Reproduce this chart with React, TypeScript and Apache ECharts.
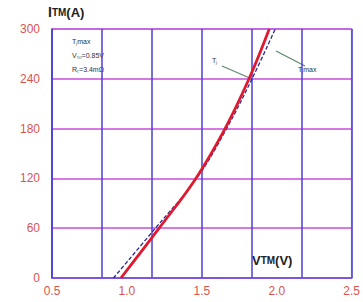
import React, { useEffect, useRef } from "react";
import * as echarts from "echarts";

const xTicks = [0.5, 1.0, 1.5, 2.0, 2.5];
const yTicks = [0, 60, 120, 180, 240, 300];
const redV = [0.96, 1.215, 1.46, 1.655, 1.815, 1.95];
const redI = [0, 60, 120, 180, 240, 300];
const blueV = [0.91, 1.19, 1.465, 1.665, 1.835, 1.99];
const blueI = [0, 60, 120, 180, 240, 300];

export default function App() {
  const ref = useRef<HTMLDivElement>(null);
  useEffect(() => {
    if (!ref.current) return;
    const chart = echarts.init(ref.current, undefined, { renderer: "svg" });
    const labelColor = "#d9544f";
    chart.setOption({
      animation: false,
      backgroundColor: "#ffffff",
      grid: { left: 52, right: 7, top: 29, bottom: 24, show: true, borderColor: "#a8a4f0", borderWidth: 1.5 },
      xAxis: [
        {
          type: "value",
          min: xTicks[0],
          max: xTicks[xTicks.length - 1],
          interval: 0.5,
          axisLine: { show: true, lineStyle: { color: "#6a4fd8", width: 1.5 } },
          axisTick: { show: false },
          splitLine: { show: false },
          axisLabel: {
            color: labelColor,
            fontSize: 12,
            fontFamily: "Liberation Sans",
            margin: 7,
            formatter: (v: number) => v.toFixed(1),
          },
        },
        {
          type: "value",
          min: 0,
          max: 6,
          interval: 1,
          position: "top",
          axisLine: { show: false },
          axisTick: { show: false },
          axisLabel: { show: false },
          splitLine: { show: true, lineStyle: { color: "#4a3fd6", width: 1.5 } },
        },
      ],
      yAxis: {
        type: "value",
        min: yTicks[0],
        max: yTicks[yTicks.length - 1],
        interval: 60,
        axisLine: { show: true, lineStyle: { color: "#4a3fd6", width: 1.5 } },
        axisTick: { show: false },
        splitLine: { show: true, lineStyle: { color: "#c94cdc", width: 1.5 } },
        axisLabel: { color: labelColor, fontSize: 12, fontFamily: "Liberation Sans", margin: 12 },
      },
      series: [
        {
          type: "line",
          xAxisIndex: 0,
          data: blueV.map((v, i) => [v, blueI[i]]),
          smooth: 0.4,
          symbol: "none",
          lineStyle: { color: "#2a2a90", width: 1.3, type: [4, 2] },
          z: 3,
        },
        {
          type: "line",
          xAxisIndex: 0,
          data: redV.map((v, i) => [v, redI[i]]),
          smooth: 0.4,
          symbol: "none",
          lineStyle: { color: "#e0192f", width: 2.8 },
          z: 4,
        },
      ],
      graphic: [
        {
          type: "text",
          left: 48,
          top: 5,
          style: {
            text: "{a|I}{b|TM}{c|(A)}",
            rich: {
              a: { fontSize: 14, fontWeight: "bold", fill: "#222", fontFamily: "Liberation Sans" },
              b: { fontSize: 10, fontWeight: "bold", fill: "#222", fontFamily: "Liberation Sans" },
              c: { fontSize: 13, fontWeight: "bold", fill: "#222", fontFamily: "Liberation Sans" },
            },
          },
        },
        {
          type: "text",
          left: 252,
          top: 254,
          style: {
            text: "{a|V}{b|TM}{c|(V)}",
            rich: {
              a: { fontSize: 13, fontWeight: "bold", fill: "#222", fontFamily: "Liberation Sans" },
              b: { fontSize: 10, fontWeight: "bold", fill: "#222", fontFamily: "Liberation Sans" },
              c: { fontSize: 13, fontWeight: "bold", fill: "#222", fontFamily: "Liberation Sans" },
            },
          },
        },
        {
          type: "text",
          left: 72,
          top: 38,
          style: { text: "T\u2c7cmax", fontSize: 7, fill: "#333", fontFamily: "Liberation Sans" },
        },
        {
          type: "text",
          left: 72,
          top: 52,
          style: { text: "V\u209c\u2080=0.85V", fontSize: 7, fill: "#333", fontFamily: "Liberation Sans" },
        },
        {
          type: "text",
          left: 72,
          top: 66,
          style: { text: "R\u209c=3.4m\u03a9", fontSize: 7, fill: "#333", fontFamily: "Liberation Sans" },
        },
        {
          type: "text",
          left: 212,
          top: 57,
          style: { text: "T\u2c7c", fontSize: 7, fill: "#333", fontFamily: "Liberation Sans" },
        },
        {
          type: "text",
          left: 298,
          top: 66,
          style: { text: "T\u2c7cmax", fontSize: 7, fill: "#333", fontFamily: "Liberation Sans" },
        },
        {
          type: "line",
          shape: { x1: 222, y1: 66, x2: 252, y2: 79 },
          style: { stroke: "#5e8a6a", lineWidth: 1.3 },
        },
        {
          type: "line",
          shape: { x1: 305, y1: 66, x2: 276, y2: 51 },
          style: { stroke: "#5e8a6a", lineWidth: 1.3 },
        },
      ],
    });
    return () => chart.dispose();
  }, []);
  return <div ref={ref} style={{ width: 363, height: 302, position: "absolute", left: 0, top: 0 }} />;
}
